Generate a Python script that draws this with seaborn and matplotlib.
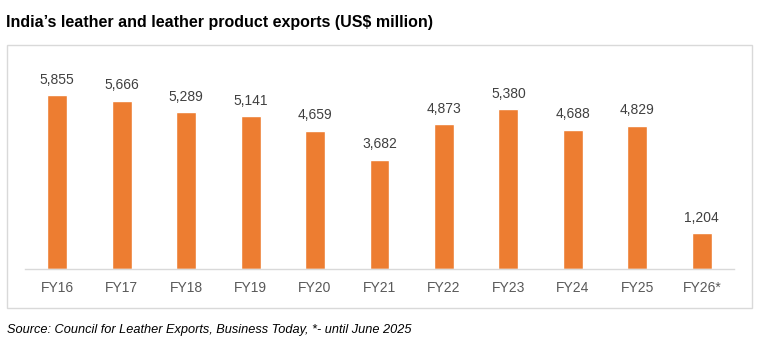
import matplotlib
matplotlib.use("Agg")
import matplotlib.pyplot as plt
import seaborn as sns
import pandas as pd
from matplotlib.patches import Rectangle

years = ["FY16", "FY17", "FY18", "FY19", "FY20", "FY21", "FY22", "FY23", "FY24", "FY25", "FY26*"]
exports = [5855, 5666, 5289, 5141, 4659, 3682, 4873, 5380, 4688, 4829, 1204]
title = "India\u2019s leather and leather product exports (US$ million)"
source = "Source: Council for Leather Exports, Business Today, *- until June 2025"

sns.set_theme(style="white")
plt.rcParams['font.family'] = ['Liberation Sans', 'DejaVu Sans']

df = pd.DataFrame({"year": years, "value": exports})

fig = plt.figure(figsize=(7.6, 3.61), dpi=100)
ax = fig.add_axes([25/760, (361-269)/361, 709/760, 208/361])

sns.barplot(data=df, x="year", y="value", color="#ED7D31", saturation=1,
            width=0.31, ax=ax)

ax.set_xlim(-0.5, len(years) - 0.5)
ax.set_ylim(0, 7000)
ax.set_xlabel("")
ax.set_ylabel("")
ax.set_yticks([])
for s in ["top", "right", "left"]:
    ax.spines[s].set_visible(False)
ax.spines["bottom"].set_color("#d9d9d9")
ax.spines["bottom"].set_linewidth(1.0)
ax.tick_params(axis="x", length=0, pad=9, labelsize=10, labelcolor="#595959")

for i, v in enumerate(exports):
    ax.annotate(f"{v:,}", (i, v), xytext=(0, 6), textcoords="offset points",
                ha="center", va="bottom", fontsize=10, color="#404040")

fig.patches.append(Rectangle((7/760, 1 - 308/361), 745/760, 263/361,
                             transform=fig.transFigure, fill=False,
                             edgecolor="#d9d9d9", linewidth=1.0))

fig.text(6/760, 1 - 22/361, title, ha="left", va="center", fontsize=11.5,
         fontweight="bold", color="#000000")
fig.text(7/760, 1 - 330/361, source, ha="left", va="center", fontsize=9.2,
         style="italic", color="#000000")

fig.savefig("out.png", dpi=100)
